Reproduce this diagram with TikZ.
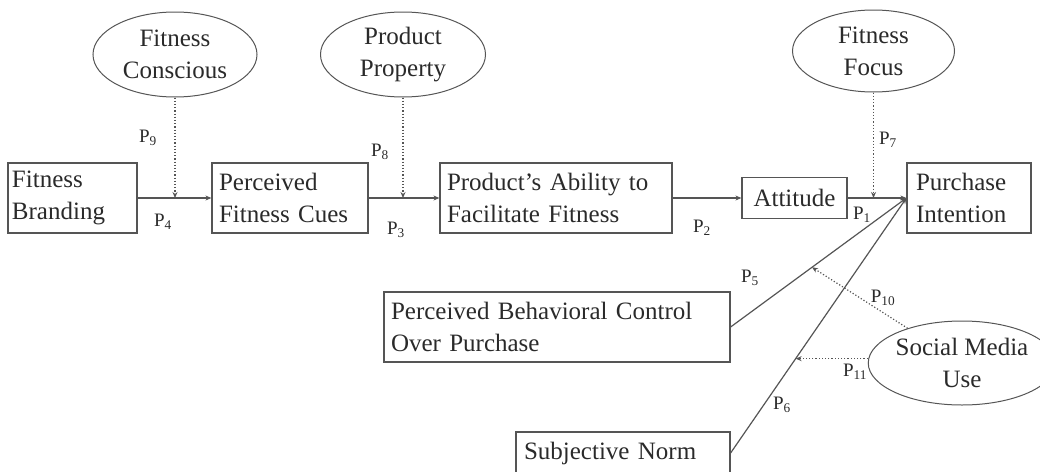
\documentclass[tikz,border=0pt]{standalone}
\usepackage{fontspec}
\setmainfont{Liberation Serif}
\usetikzlibrary{shapes.geometric,arrows.meta,calc}
\definecolor{ln}{HTML}{555555}
\definecolor{tx}{HTML}{2a2a2a}
\begin{document}
\begin{tikzpicture}[x=1pt,y=-1pt,
  every node/.style={text=tx},
  box/.style={draw=ln, line width=1.2pt, rectangle, inner xsep=7pt, inner ysep=0pt, align=left, font=\fontsize{25}{32}\selectfont},
  oval/.style={draw=ln, line width=1pt, ellipse, align=center, inner sep=0pt, font=\fontsize{25}{32}\selectfont},
  lab/.style={font=\fontsize{19}{20}\selectfont, inner sep=0pt},
  conn/.style={draw=ln, line width=1.2pt, -{Stealth[length=6pt,width=5pt]}},
  mod/.style={draw=ln, line width=1.2pt, dotted, -{Stealth[length=6pt,width=5pt]}}
]
\useasboundingbox (0,0) rectangle (1040,471);
\clip (0,0) rectangle (1040,471);

% boxes
\node[box, inner xsep=4pt, minimum width=129, text width=121, minimum height=70] (fb) at (72.5,198) {Fitness\\Branding};
\node[box, minimum width=156, text width=142, minimum height=70] (pfc) at (290,198) {Perceived\\Fitness Cues};
\node[box, minimum width=232, text width=218, minimum height=70] (pa) at (556,198) {Product's Ability to\\Facilitate Fitness};
\node[box, align=center, minimum width=105, text width=91, minimum height=41] (att) at (794.5,198) {Attitude};
\node[box, inner xsep=9pt, minimum width=124, text width=106, minimum height=70] (pi) at (969,198) {Purchase\\Intention};
\node[box, minimum width=346, text width=332, minimum height=70] (pbc) at (557,327) {Perceived Behavioral Control\\Over Purchase};
\node[box, inner xsep=8pt, minimum width=214, text width=198, minimum height=42] (sn) at (623,453) {Subjective Norm};

% ellipses
\node[oval, minimum width=164, minimum height=85] (fc) at (175,54.5) {Fitness\\Conscious};
\node[oval, minimum width=165, minimum height=85] (pp) at (403,54.5) {Product\\Property};
\node[oval, minimum width=162, minimum height=82] (ff) at (873.5,51) {Fitness\\Focus};
\node[oval, minimum width=154, minimum height=84] (smu) at (962,363) {Social Media\\Use};

% main paths
\draw[conn] (fb) -- (pfc);
\draw[conn] (pfc) -- (pa);
\draw[conn] (pa) -- (att);
\draw[conn] (att) -- (pi);
\draw[conn] (pbc.east) -- (pi.west);
\draw[conn] (sn.east) -- (pi.west);

% moderators
\draw[mod] (fc.south) -- (fc.south |- fb.east);
\draw[mod] (pp.south) -- (pp.south |- pfc.east);
\draw[mod] (ff.south) -- (ff.south |- att.east);
\coordinate (m4) at ($(pbc.east)!0.463!(pi.west)$);
\coordinate (m5) at ($(sn.east)!0.37!(pi.west)$);
\draw[mod] (smu) -- (m4);
\draw[mod] (smu.west |- m5) -- (m5);

% labels
\node[lab] (p9) at (148,138) {P\textsubscript{9}};
\node[lab] (p4) at (163,222) {P\textsubscript{4}};
\node[lab] (p8) at (380,152) {P\textsubscript{8}};
\node[lab] (p3) at (396,230) {P\textsubscript{3}};
\node[lab] (p2) at (702,228) {P\textsubscript{2}};
\node[lab] (p1) at (862,215) {P\textsubscript{1}};
\node[lab] (p7) at (888,140) {P\textsubscript{7}};
\node[lab] (p5) at (750,278) {P\textsubscript{5}};
\node[lab] (p10) at (883,298) {P\textsubscript{10}};
\node[lab] (p11) at (855,372) {P\textsubscript{11}};
\node[lab] (p6) at (782,405) {P\textsubscript{6}};
\end{tikzpicture}
\end{document}
